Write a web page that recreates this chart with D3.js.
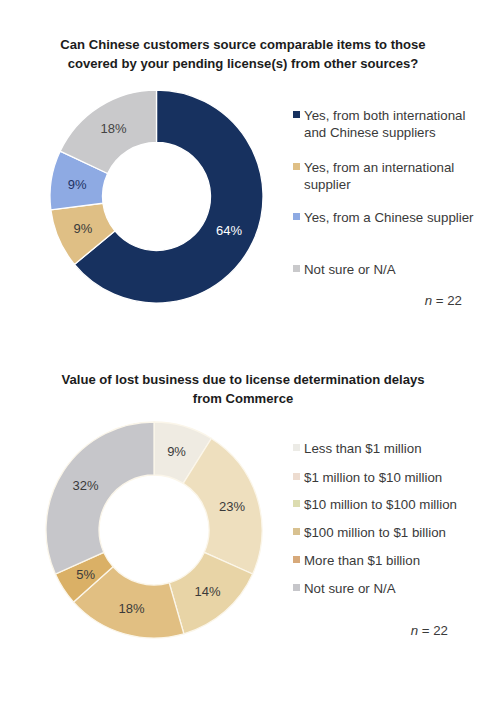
<!DOCTYPE html>
<html><head><meta charset="utf-8">
<script src="https://cdn.jsdelivr.net/npm/d3@7"></script>
<style>
html,body{margin:0;padding:0;background:#fff;}
svg{display:block;font-family:"Liberation Sans",Arial,sans-serif;}
</style></head>
<body>
<svg id="c" width="482" height="704"></svg>
<script>
// Chart 1
const title1 = ["Can Chinese customers source comparable items to those", "covered by your pending license(s) from other sources?"];
const cats1 = [["Yes, from both international", "and Chinese suppliers"], ["Yes, from an international", "supplier"], ["Yes, from a Chinese supplier"], ["Not sure or N/A"]];
const vals1 = [64, 9, 9, 18];
const colors1 = ["#17315f", "#dfbf85", "#8eaae3", "#c9c9cb"];
const labelColors1 = ["#ffffff", "#3a3a3a", "#1f3466", "#444444"];
const n1 = 22;

// Chart 2
const title2 = ["Value of lost business due to license determination delays", "from Commerce"];
const cats2 = ["Less than $1 million", "$1 million to $10 million", "$10 million to $100 million", "$100 million to $1 billion", "More than $1 billion", "Not sure or N/A"];
const vals2 = [9, 23, 14, 18, 5, 32];
const colors2 = ["#efebe2", "#eedfbe", "#e8d4a6", "#e1bf82", "#dab066", "#c6c6ca"];
const legendColors2 = ["#ecebe6", "#eddcd0", "#dcdcb0", "#d8c190", "#d7a97a", "#c6c6ca"];
const n2 = 22;

const svg = d3.select("#c");

function donut(opts) {
  const g = svg.append("g");
  // title
  g.selectAll("text.title").data(opts.title).join("text")
    .attr("x", 243).attr("y", (d, i) => opts.titleY + i * 18.5)
    .attr("text-anchor", "middle").attr("font-weight", "bold").attr("font-size", 13.1)
    .attr("fill", "#1c1c1c").text(d => d);

  const pie = d3.pie().sort(null).value(d => d).startAngle(0).endAngle(2 * Math.PI);
  const arcs = pie(opts.vals);
  const arc = d3.arc().innerRadius(opts.ri).outerRadius(opts.r);
  const lab = d3.arc().innerRadius((opts.r + opts.ri) / 2).outerRadius((opts.r + opts.ri) / 2);
  const pg = g.append("g").attr("transform", `translate(${opts.cx},${opts.cy})`);
  pg.selectAll("path").data(arcs).join("path")
    .attr("d", arc).attr("fill", (d, i) => opts.colors[i])
    .attr("stroke", opts.stroke).attr("stroke-width", 1.3);
  pg.selectAll("text").data(arcs).join("text")
    .attr("transform", d => `translate(${lab.centroid(d)})`)
    .attr("text-anchor", "middle").attr("dy", "0.35em").attr("font-size", 13)
    .attr("fill", (d, i) => opts.labelColors[i]).text(d => d.data + "%");

  // legend
  const lg = g.append("g");
  opts.cats.forEach((c, i) => {
    const lines = Array.isArray(c) ? c : [c];
    const y = opts.legY[i];
    lg.append("rect").attr("x", 293).attr("y", y - 4).attr("width", 7).attr("height", 7)
      .attr("fill", opts.legendColors[i]);
    lines.forEach((t, j) => {
      lg.append("text").attr("x", 304).attr("y", y + j * 17).attr("dy", "0.35em")
        .attr("font-size", 13.3).attr("fill", "#3a3a3a").text(t);
    });
  });
  const nt = g.append("text").attr("x", opts.nX).attr("y", opts.nY).attr("dy", "0.35em")
    .attr("text-anchor", "end").attr("font-size", 13.3).attr("fill", "#3a3a3a");
  nt.append("tspan").attr("font-style", "italic").text("n");
  nt.append("tspan").text(" = " + opts.n);
}

donut({title: title1, titleY: 49, vals: vals1, colors: colors1, labelColors: labelColors1,
  cx: 156.5, cy: 196.5, r: 106.5, ri: 54, stroke: "#ffffff",
  cats: cats1, legendColors: colors1, legY: [115, 167, 217, 269], n: n1, nX: 462, nY: 300});

donut({title: title2, titleY: 384, vals: vals2, colors: colors2, labelColors: vals2.map(() => "#3a3a3a"),
  cx: 154, cy: 530, r: 108, ri: 55, stroke: "#fbf6ea",
  cats: cats2, legendColors: legendColors2, legY: [448, 477, 504, 532, 560, 588], n: n2, nX: 448, nY: 630});
</script>
</body></html>
